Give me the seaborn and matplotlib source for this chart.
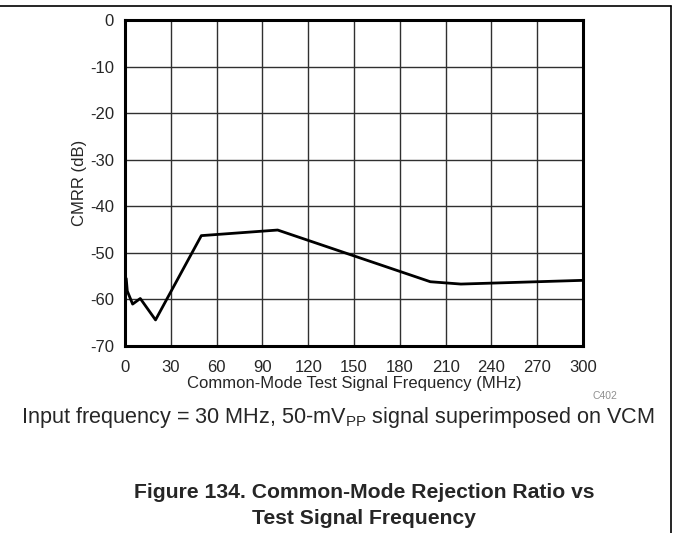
import numpy as np
import pandas as pd
import matplotlib
matplotlib.use("Agg")
import matplotlib.pyplot as plt
import seaborn as sns

# CMRR vs common-mode test signal frequency
freq_mhz = [0.8, 1.5, 5, 10, 20, 50, 100, 200, 220, 300]
cmrr_db = [-55.5, -58.2, -61.0, -59.8, -64.4, -46.3, -45.1, -56.2, -56.7, -55.9]

x_ticks = [0, 30, 60, 90, 120, 150, 180, 210, 240, 270, 300]
y_ticks = [0, -10, -20, -30, -40, -50, -60, -70]

df = pd.DataFrame({"freq": freq_mhz, "cmrr": cmrr_db})

sns.set_style("white")
plt.rcParams['font.family'] = ['Liberation Sans', 'DejaVu Sans']
plt.rcParams['mathtext.fontset'] = 'custom'
plt.rcParams['mathtext.rm'] = 'Liberation Sans'
plt.rcParams['axes.unicode_minus'] = False

fig = plt.figure(figsize=(6.73, 5.33), dpi=100)
ax = fig.add_axes([125 / 673, 1 - 346 / 533, 458 / 673, 326 / 533])

sns.lineplot(data=df, x="freq", y="cmrr", ax=ax, color="black", linewidth=2, sort=False)

ax.set_xlim(0, 300)
ax.set_ylim(-70, 0)
ax.set_xticks(x_ticks)
ax.set_yticks(y_ticks)
ax.tick_params(length=0, labelsize=12)
ax.tick_params(axis="x", pad=10)
ax.tick_params(axis="y", pad=8)
ax.grid(True, color="#303030", linewidth=1)
for s in ax.spines.values():
    s.set_linewidth(2.2)
    s.set_color("black")

ax.set_xlabel("Common-Mode Test Signal Frequency (MHz)", fontsize=12, labelpad=1)
ax.set_ylabel("CMRR (dB)", fontsize=12, labelpad=2)

# chart id and caption text
fig.text(605 / 673, 1 - 396 / 533, "C402", fontsize=7.5, color="#909090", ha="center", va="center")
fig.text(338 / 673, 1 - 417 / 533,
         r"Input frequency = 30 MHz, 50-mV$_\mathrm{PP}$ signal superimposed on VCM",
         fontsize=15.6, ha="center", va="center")
fig.text(364 / 673, 1 - 493 / 533, "Figure 134. Common-Mode Rejection Ratio vs",
         fontsize=15.2, fontweight="bold", ha="center", va="center")
fig.text(364 / 673, 1 - 518 / 533, "Test Signal Frequency",
         fontsize=15.2, fontweight="bold", ha="center", va="center")

# page border lines around the figure
fig.add_artist(plt.Line2D([0, 671 / 673], [1 - 6 / 533, 1 - 6 / 533], color="black", linewidth=1.2))
fig.add_artist(plt.Line2D([671 / 673, 671 / 673], [1 - 6 / 533, 0], color="black", linewidth=1.2))

fig.savefig("out.png", dpi=100)
